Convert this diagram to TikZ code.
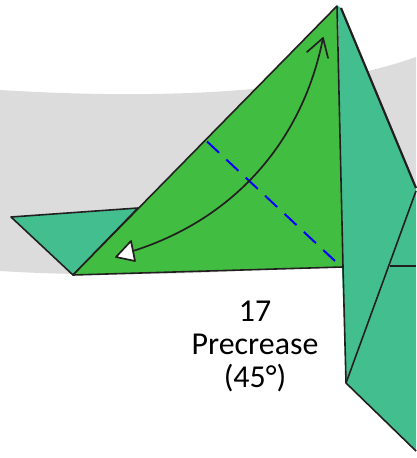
\documentclass[tikz,border=0pt]{standalone}
\usepackage{fontspec}
\setmainfont{Carlito}
\definecolor{bandgray}{HTML}{DCDCDC}
\definecolor{leafgreen}{HTML}{41BE41}
\definecolor{tealgreen}{HTML}{43BF8F}
\definecolor{inkline}{HTML}{231F20}
\tikzset{
  foldedge/.style={draw=inkline,line width=1.6pt,line join=round},
  crease/.style={draw=blue,line width=2pt,dash pattern=on 16.5bp off 10bp},
  movearrow/.style={draw=inkline,line width=1.7pt,line cap=round,line join=round}
}
\begin{document}
\begin{tikzpicture}[x=1bp,y=-1bp]
\useasboundingbox (0,0) rectangle (416,458);
% background band
\fill[bandgray] (0,90) .. controls (130,98) and (300,98) .. (416,57) -- (416,265) -- (250,270.5) .. controls (170,275) and (80,276) .. (0,271) -- cycle;
% teal flap at the left
\path[fill=tealgreen,foldedge] (11,217) -- (138,208) -- (73,275) -- cycle;
% teal right part
\fill[tealgreen] (338,6) -- (341,8) -- (416,187) -- (416,451) -- (346,383) -- (342,267) -- cycle;
\draw[foldedge,line width=2.2pt] (341,8) -- (416,188);
\draw[foldedge] (416,191) -- (346,383) -- (416,451);
\draw[foldedge] (343,267) -- (346,383);
\draw[foldedge] (390,266) -- (416,266);
% main green triangle
\path[fill=leafgreen,foldedge] (337,6) -- (343,267) -- (73,275) -- cycle;
% precrease
\draw[crease] (207,141.5) -- (335,261);
% move arrow
\draw[movearrow] (133,251) .. controls (240,217) and (304,135) .. (323,38);
\draw[movearrow] (307,52) -- (323,38) -- (328,58);
\path[fill=white,movearrow] (116,257) -- (131,241) -- (135,261) -- cycle;
% caption
\node[font=\fontsize{32}{33}\selectfont,align=center,text=black] (caption) at (255,346.5) {17\\Precrease\\(45°)};
\end{tikzpicture}
\end{document}
